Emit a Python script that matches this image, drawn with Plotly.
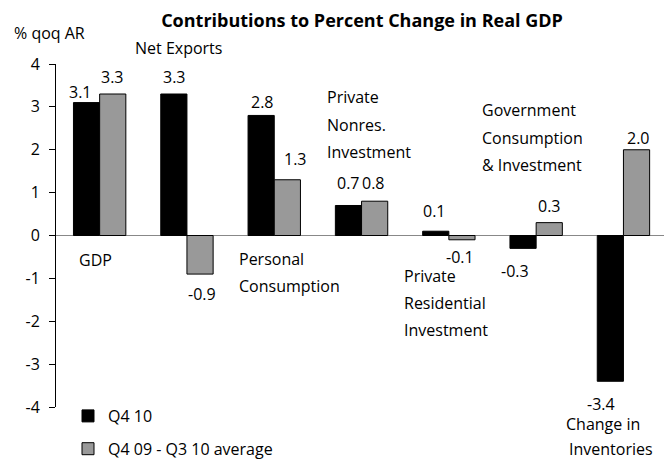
import plotly.graph_objects as go

# Contributions to percent change in real GDP (% qoq annualised)
categories = ["GDP", "Net Exports", "Personal Consumption", "Private Nonres. Investment",
              "Private Residential Investment", "Government Consumption & Investment",
              "Change in Inventories"]
q4_10 = [3.1, 3.3, 2.8, 0.7, 0.1, -0.3, -3.4]
q4_09_q3_10_avg = [3.3, -0.9, 1.3, 0.8, -0.1, 0.3, 2.0]
series_names = ["Q4 10", "Q4 09 - Q3 10 average"]
y_ticks = [4, 3, 2, 1, 0, -1, -2, -3, -4]

FONT = "Open Sans"
W, H = 664, 460
L, R, T, B = 56, 0, 64, 53
PW, PH = W - L - R, H - T - B
UNIT_X = 87.3                      # px per category
x_range = [-0.5, -0.5 + PW / UNIT_X]
y_range = [-4, 4]

xs = list(range(len(categories)))

fig = go.Figure()
fig.add_trace(go.Bar(
    x=xs, y=q4_10, name=series_names[0], legendgroup="a",
    marker=dict(color="#000000", line=dict(color="#000000", width=1)),
))
fig.add_trace(go.Bar(
    x=xs, y=q4_09_q3_10_avg, name=series_names[1], legendgroup="b",
    marker=dict(color="#999999", line=dict(color="#000000", width=1)),
))


def px_to_paper(px, py):
    return (px - L) / PW, (H - B - py) / PH


annotations = []

# value labels: (dx, dy) nudges in px relative to the bar end
q4_nudges = [(-6, 11), (1, 17), (1, 13), (0, 22), (-1, 20), (-8, -23), (-9, -23)]
avg_nudges = [(0, 17), (2, -20), (8, 21), (-1, 18), (-2, -17), (0, 17), (2, 12)]
for vals, nudges, off in ((q4_10, q4_nudges, -0.15), (q4_09_q3_10_avg, avg_nudges, 0.15)):
    for i, (v, (dx, dy)) in enumerate(zip(vals, nudges)):
        annotations.append(dict(
            x=i + off, y=v, xref="x", yref="y", text=f"{v:.1f}", showarrow=False,
            xanchor="center", yanchor="middle", xshift=dx, yshift=dy,
            font=dict(family=FONT, size=16, color="#000000"),
        ))

# category captions (one annotation per line), positions in px
captions = [
    ("Net Exports", 178.5, 48, "center"),
    ("GDP", 77, 259.5, "left"),
    ("Personal", 237, 259, "left"),
    ("Consumption", 237, 285.5, "left"),
    ("Private", 325, 97, "left"),
    ("Nonres.", 325, 125, "left"),
    ("Investment", 325, 152, "left"),
    ("Private", 401.7, 275.5, "left"),
    ("Residential", 401.7, 302.5, "left"),
    ("Investment", 401.7, 329.5, "left"),
    ("Government", 480, 110, "left"),
    ("Consumption", 480, 137.5, "left"),
    ("& Investment", 480, 164.5, "left"),
    ("Change in", 602.5, 424, "center"),
    ("Inventories", 611, 449, "center"),
    ("% qoq AR", 12, 33, "left"),
]
for text, px, py, anchor in captions:
    ax, ay = px_to_paper(px, py)
    annotations.append(dict(
        x=ax, y=ay, xref="paper", yref="paper", text=text, showarrow=False,
        xanchor=anchor, yanchor="middle",
        font=dict(family=FONT, size=16, color="#000000"),
    ))

fig.update_layout(
    width=W, height=H,
    margin=dict(l=L, r=R, t=T, b=B, pad=0, autoexpand=False),
    paper_bgcolor="white", plot_bgcolor="white",
    barmode="group", bargap=0.4, bargroupgap=0,
    title=dict(text="<b>Contributions to Percent Change in Real GDP</b>",
               x=362 / W, xanchor="center", y=1 - 21 / H, yanchor="middle",
               font=dict(family=FONT, size=18, color="#000000")),
    xaxis=dict(range=x_range, showticklabels=False, showgrid=False, zeroline=False,
               showline=False, ticks=""),
    yaxis=dict(range=y_range, tickvals=y_ticks, ticktext=[str(t) for t in y_ticks],
               showgrid=False, showline=True, linecolor="#000000", linewidth=1,
               ticks="outside", ticklen=6, tickcolor="#000000", tickwidth=1,
               zeroline=True, zerolinecolor="#888888", zerolinewidth=1,
               ticklabelstandoff=6,
               tickfont=dict(family=FONT, size=16, color="#000000")),
    showlegend=True,
    legend=dict(x=(68 - L) / PW, xanchor="left", y=(H - B - 399) / PH, yanchor="top",
                tracegroupgap=9, bgcolor="rgba(0,0,0,0)",
                font=dict(family=FONT, size=16, color="#000000")),
    annotations=annotations,
)

fig.write_html("out.html")
